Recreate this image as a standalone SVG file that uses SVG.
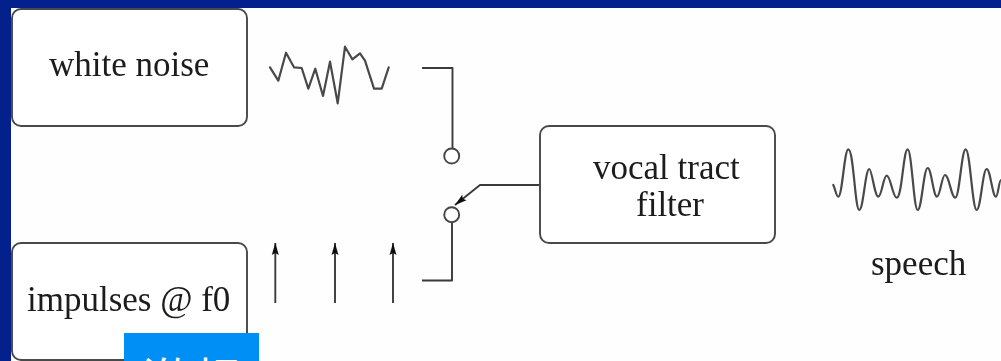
<svg xmlns="http://www.w3.org/2000/svg" width="1001" height="361" viewBox="0 0 1001 361">
<style>
.box{fill:#fefffe;stroke:#484848;stroke-width:1.9}
.line{fill:none;stroke:#3a3a3a;stroke-width:1.9;stroke-linejoin:round}
.wave{fill:none;stroke:#4a4a4a;stroke-width:2.2;stroke-linejoin:round;stroke-linecap:round}
.term{fill:#fefffe;stroke:#444;stroke-width:1.9}
.t{font-family:"Liberation Serif","Times New Roman",serif;font-size:35px;fill:#1a1a1a}
.cjk{font-family:"Noto Sans CJK SC",sans-serif;font-size:48px;fill:#fff}
</style>
<defs>
<filter id="soft" x="-5%" y="-5%" width="110%" height="110%"><feGaussianBlur stdDeviation="0.5"/></filter>
<marker id="head" markerUnits="userSpaceOnUse" markerWidth="14" markerHeight="10" refX="13" refY="5" orient="auto" viewBox="0 0 14 10"><path d="M13 5L1 1.500L3 5L1 8.500Z" fill="#111"/></marker>
<clipPath id="blueclip"><rect x="124" y="333" width="135" height="28"/></clipPath>
</defs>
<rect width="1001" height="361" fill="#fdfefd"/>
<g id="frame"><rect width="1001" height="8" fill="#04208c"/><rect width="11" height="361" fill="#04208c"/></g>
<g filter="url(#soft)">
<g id="connectors">
<path class="line" d="M422 68H452.500V148"/>
<path class="line" d="M452 222V280.500H422"/>
<path class="line" d="M540 185H480L455 205" marker-end="url(#head)"/>
<path class="line" d="M275.300 303V243" marker-end="url(#head)"/>
<path class="line" d="M335 303V243" marker-end="url(#head)"/>
<path class="line" d="M393 303V243" marker-end="url(#head)"/>
</g>
<g id="white-noise"><rect class="box" x="12" y="9" width="235" height="117" rx="9"/><text class="t" x="49" y="76">white noise</text></g>
<g id="impulses"><rect class="box" x="12" y="243" width="235" height="117" rx="9"/><text class="t" x="27" y="311">impulses @ f0</text></g>
<g id="vocal-tract-filter"><rect class="box" x="540" y="126" width="235" height="117" rx="9"/><text class="t" x="593" y="179">vocal tract</text><text class="t" x="636" y="216">filter</text></g>
<g id="switch-top"><circle class="term" cx="451.700" cy="156" r="7.500"/></g>
<g id="switch-bottom"><circle class="term" cx="451.700" cy="214.700" r="7.500"/></g>
<g id="noise-wave"><polyline class="wave" points="270,67.300 278.300,80.700 286,52.700 294,67.300 301.700,68 308.300,88.700 315.300,68.700 323,96 330,61.700 337.700,103.300 345,46.700 352.300,59.300 360,53.300 365,60.700 374,88.700 381.700,88.700 388.700,67.300"/></g>
<g id="speech-wave"><path class="wave" d="M833.300 185C835.300 189 836.300 196.700 838.300 196.700C842.300 196.700 844.300 149.300 848.300 149.300C853.700 149.300 854.900 210 859.300 210C863.300 210 865.300 169 869.300 169C871.900 169 874.700 196.700 878.300 196.700C881.700 196.700 883.300 175.700 886.700 175.700C890.700 175.700 892.700 197.700 896.700 197.700C902.100 197.700 903.300 149.300 907.700 149.300C911.700 149.300 913.700 210 917.700 210C921.700 210 923.700 168 927.700 168C931.400 168 933.300 196.700 937 196.700C940.200 196.700 941.800 175 945 175C949.100 175 951.200 197.700 955.300 197.700C959.500 197.700 961.500 149.300 965.700 149.300C970.100 149.300 972.300 210 976.700 210C980.700 210 982.700 169 986.700 169C990.400 169 992.300 196.700 996 196.700C998 196.700 999 180 1001 180"/></g>
<g id="speech-label"><text class="t" x="871" y="275">speech</text></g>
</g>
<g id="caption"><rect x="124" y="333" width="135" height="28" fill="#0090f5"/><g clip-path="url(#blueclip)"><text class="cjk" x="143" y="398">激频</text></g></g>
</svg>
